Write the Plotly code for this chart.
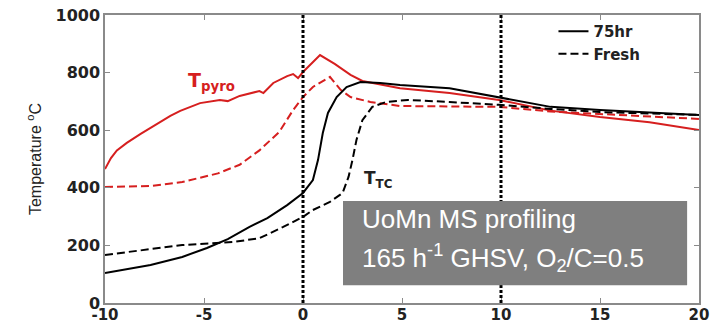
import plotly.graph_objects as go

# ---- data ----
pyro_75_x = [-10, -9.7, -9.4, -8.9, -8.2, -7.2, -6.7, -6.2, -5.2, -4.2, -3.8, -3.2, -2.2, -2.0, -1.5,
             -0.8, -0.5, -0.25, 0, 0.86, 1.6, 2.4, 3.0, 4.9, 6.4, 7.4, 9.9, 12.5, 15, 17.5, 20]
pyro_75_y = [465, 503, 530, 556, 587, 628, 650, 667, 694, 705, 701, 719, 736, 729, 764,
             788, 795, 781, 802, 861, 830, 792, 771, 746, 736, 729, 705, 668, 646, 628, 601]

pyro_fr_x = [-10, -7.7, -6.1, -4.3, -3.2, -2.2, -1.2, -0.5, 0, 0.5, 1.36, 1.9, 2.4, 3.4, 4.9, 9.9, 12.5, 15, 20]
pyro_fr_y = [403, 406, 420, 450, 480, 530, 594, 670, 715, 750, 785, 740, 715, 698, 684, 681, 665, 656, 639]

tc_75_x = [-10, -7.7, -6.1, -4.85, -3.8, -2.7, -1.8, -0.8, 0, 0.5, 0.76, 1.0, 1.26, 1.7, 2.2, 2.9, 3.9,
           4.9, 7.4, 9.9, 12.5, 15, 20]
tc_75_y = [104, 132, 160, 191, 222, 264, 295, 340, 382, 427, 497, 590, 660, 715, 750, 767, 764,
           757, 746, 715, 681, 670, 653]

tc_fr_x = [-10, -7.7, -6.1, -3.5, -2.2, -1.0, 0, 0.5, 1.36, 2.0, 2.3, 2.5, 2.7, 3.0, 3.5, 4.2, 5.3,
           7.4, 9.9, 12.5, 15, 20]
tc_fr_y = [167, 187, 201, 212, 225, 264, 299, 323, 351, 382, 438, 497, 566, 635, 681, 698, 705,
           698, 688, 674, 663, 653]

x_ticks = [-10, -5, 0, 5, 10, 15, 20]
x_tick_labels = ["-10", "-5", "0", "5", "10", "15", "20"]
y_ticks = [0, 200, 400, 600, 800, 1000]
v_lines = [0, 10]

RED = "#d61f1f"
DASH = "8px,4px"

fig = go.Figure()
fig.add_trace(go.Scatter(x=pyro_75_x, y=pyro_75_y, mode="lines", line=dict(color=RED, width=2),
                         showlegend=False))
fig.add_trace(go.Scatter(x=pyro_fr_x, y=pyro_fr_y, mode="lines", line=dict(color=RED, width=2, dash=DASH),
                         showlegend=False))
fig.add_trace(go.Scatter(x=tc_75_x, y=tc_75_y, mode="lines", name="75hr",
                         line=dict(color="black", width=2)))
fig.add_trace(go.Scatter(x=tc_fr_x, y=tc_fr_y, mode="lines", name="Fresh",
                         line=dict(color="black", width=2, dash=DASH)))

for xv in v_lines:
    fig.add_shape(type="line", xref="x", yref="paper", x0=xv, x1=xv, y0=0, y1=1,
                  line=dict(color="black", width=3, dash="3px,2px"))

# grey info box
fig.add_shape(type="rect", xref="x", yref="y", x0=2.02, x1=19.4, y0=62, y1=354,
              fillcolor="#7f7f7f", line=dict(width=0), layer="above")
fig.add_annotation(xref="x", yref="y", x=2.9, y=290, xanchor="left", yanchor="middle",
                   text="UoMn MS profiling", showarrow=False,
                   font=dict(family="Liberation Sans, Arial", size=26, color="white"))
fig.add_annotation(xref="x", yref="y", x=2.9, y=155, xanchor="left", yanchor="middle",
                   text="165 h<sup>-1</sup> GHSV, O<sub>2</sub>/C=0.5", showarrow=False,
                   font=dict(family="Liberation Sans, Arial", size=26, color="white"))

fig.add_annotation(xref="x", yref="y", x=-5.9, y=770, xanchor="left", yanchor="middle",
                   text="T<sub>pyro</sub>", showarrow=False,
                   font=dict(family="DejaVu Sans", size=19, color=RED, weight="bold"))
fig.add_annotation(xref="x", yref="y", x=3.0, y=430, xanchor="left", yanchor="middle",
                   text="T<sub>TC</sub>", showarrow=False,
                   font=dict(family="DejaVu Sans", size=17, color="#222", weight="bold"))

axis_common = dict(showline=True, linecolor="#8a8a8a", linewidth=1.5, mirror="ticks",
                   ticks="inside", ticklen=5, tickcolor="#8a8a8a", showgrid=False, zeroline=False,
                   automargin=False)

fig.update_layout(
    width=721, height=325,
    margin=dict(l=105, r=22, t=15, b=22),
    paper_bgcolor="white", plot_bgcolor="white",
    xaxis=dict(range=[-10, 20], tickvals=x_ticks, ticktext=x_tick_labels, ticklabelstandoff=-3,
               tickfont=dict(family="DejaVu Sans", size=15, color="#222", weight="bold"),
               **axis_common),
    yaxis=dict(range=[0, 1000], tickvals=y_ticks,
               tickfont=dict(family="DejaVu Sans", size=16, color="#222", weight="bold"),
               title=dict(text="Temperature <sup>o</sup>C", standoff=10,
                          font=dict(family="Liberation Sans, Arial", size=16, color="#222")),
               **axis_common),
    legend=dict(x=0.755, y=1.0, xanchor="left", yanchor="top", bgcolor="rgba(0,0,0,0)",
                font=dict(family="DejaVu Sans", size=15, color="#222", weight="bold"),
                tracegroupgap=0),
)

fig.write_html("out.html")
